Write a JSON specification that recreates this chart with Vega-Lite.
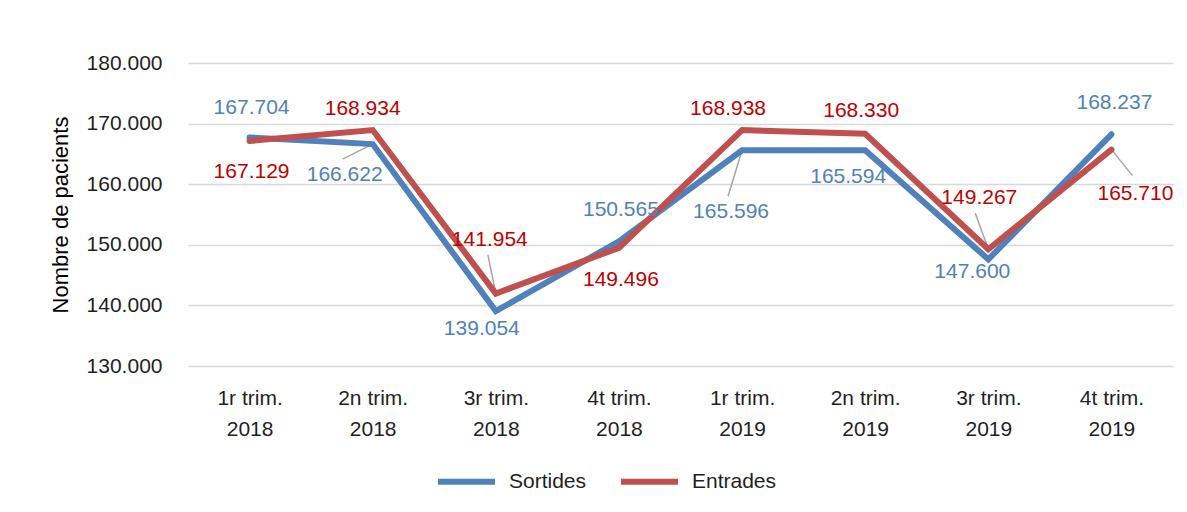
{
  "$schema": "https://vega.github.io/schema/vega-lite/v6.json",
  "width": 985,
  "height": 303,
  "autosize": {"type": "none"},
  "padding": {"left": 188, "top": 63, "right": 14, "bottom": 146},
  "background": "white",
  "config": {
    "locale": {"number": {"decimal": ",", "thousands": ".", "grouping": [3], "currency": ["", " €"]}},
    "font": "Liberation Sans",
    "view": {"stroke": null},
    "axis": {"labelFont": "Liberation Sans", "titleFont": "Liberation Sans"},
    "text": {"font": "Liberation Sans", "fontSize": 21}
  },
  "data": {
    "values": [
      {"trim": "1r trim. 2018", "serie": "Sortides", "valor": 167704},
      {"trim": "2n trim. 2018", "serie": "Sortides", "valor": 166622},
      {"trim": "3r trim. 2018", "serie": "Sortides", "valor": 139054},
      {"trim": "4t trim. 2018", "serie": "Sortides", "valor": 150565},
      {"trim": "1r trim. 2019", "serie": "Sortides", "valor": 165596},
      {"trim": "2n trim. 2019", "serie": "Sortides", "valor": 165594},
      {"trim": "3r trim. 2019", "serie": "Sortides", "valor": 147600},
      {"trim": "4t trim. 2019", "serie": "Sortides", "valor": 168237},
      {"trim": "1r trim. 2018", "serie": "Entrades", "valor": 167129},
      {"trim": "2n trim. 2018", "serie": "Entrades", "valor": 168934},
      {"trim": "3r trim. 2018", "serie": "Entrades", "valor": 141954},
      {"trim": "4t trim. 2018", "serie": "Entrades", "valor": 149496},
      {"trim": "1r trim. 2019", "serie": "Entrades", "valor": 168938},
      {"trim": "2n trim. 2019", "serie": "Entrades", "valor": 168330},
      {"trim": "3r trim. 2019", "serie": "Entrades", "valor": 149267},
      {"trim": "4t trim. 2019", "serie": "Entrades", "valor": 165710}
    ]
  },
  "encoding": {
    "x": {
      "field": "trim", "type": "nominal",
      "scale": {"type": "point", "padding": 0.5, "domain": ["1r trim. 2018", "2n trim. 2018", "3r trim. 2018", "4t trim. 2018", "1r trim. 2019", "2n trim. 2019", "3r trim. 2019", "4t trim. 2019"]},
      "axis": {
        "title": null, "labelAngle": 0, "domain": false, "ticks": false,
        "labelFontSize": 21, "labelColor": "#1f1f1f", "labelPadding": 32,
        "labelLineHeight": 31, "labelBaseline": "middle",
        "labelExpr": "[slice(datum.label,0,8), slice(datum.label,9)]"
      }
    },
    "y": {
      "field": "valor", "type": "quantitative",
      "scale": {"domain": [130000, 180000], "nice": false, "zero": false},
      "axis": {
        "title": "Nombre de pacients", "titleFontSize": 22, "titleFontWeight": "normal",
        "titleColor": "#000000", "titlePadding": 14,
        "values": [130000, 140000, 150000, 160000, 170000, 180000],
        "format": ",d", "labelFontSize": 21, "labelColor": "#1f1f1f", "labelPadding": 26,
        "domain": false, "ticks": false, "grid": true, "gridColor": "#D9D9D9", "gridWidth": 1.5
      }
    }
  },
  "layer": [
    {
      "transform": [{"filter": "datum.serie=='Sortides' && (datum.trim=='2n trim. 2018')"}],
      "mark": {"type": "rule", "color": "#A6A6A6", "strokeWidth": 1.5, "x2Offset": -30, "y2Offset": 15},
      "encoding": {"x2": {"field": "trim"}, "y2": {"field": "valor"}}
    },
    {
      "transform": [{"filter": "datum.serie=='Sortides' && (datum.trim=='1r trim. 2019')"}],
      "mark": {"type": "rule", "color": "#A6A6A6", "strokeWidth": 1.5, "x2Offset": -14, "y2Offset": 46},
      "encoding": {"x2": {"field": "trim"}, "y2": {"field": "valor"}}
    },
    {
      "transform": [{"filter": "datum.serie=='Entrades' && (datum.trim=='3r trim. 2018')"}],
      "mark": {"type": "rule", "color": "#A6A6A6", "strokeWidth": 1.5, "x2Offset": -8, "y2Offset": -39},
      "encoding": {"x2": {"field": "trim"}, "y2": {"field": "valor"}}
    },
    {
      "transform": [{"filter": "datum.serie=='Entrades' && (datum.trim=='3r trim. 2019')"}],
      "mark": {"type": "rule", "color": "#A6A6A6", "strokeWidth": 1.5, "x2Offset": -13, "y2Offset": -36},
      "encoding": {"x2": {"field": "trim"}, "y2": {"field": "valor"}}
    },
    {
      "transform": [{"filter": "datum.serie=='Entrades' && (datum.trim=='4t trim. 2019')"}],
      "mark": {"type": "rule", "color": "#A6A6A6", "strokeWidth": 1.5, "x2Offset": 21, "y2Offset": 26},
      "encoding": {"x2": {"field": "trim"}, "y2": {"field": "valor"}}
    },
    {
      "mark": {"type": "line", "strokeWidth": 6, "strokeCap": "round"},
      "encoding": {
        "color": {
          "field": "serie", "type": "nominal",
          "scale": {"domain": ["Sortides", "Entrades"], "range": ["#4F81BD", "#C0504D"]},
          "legend": {
            "title": null, "orient": "none", "direction": "horizontal",
            "legendX": 247, "legendY": 387,
            "symbolType": "stroke", "symbolSize": 3249, "symbolStrokeWidth": 6,
            "labelFontSize": 21, "labelColor": "#1f1f1f", "labelOffset": 11,
            "columnPadding": 22, "labelFont": "Liberation Sans"
          }
        }
      }
    },
    {"transform": [{"filter": "datum.serie=='Sortides' && datum.trim=='1r trim. 2018'"}], "mark": {"type": "text", "color": "#4F81BD", "dx": 2, "dy": -30, "baseline": "middle"}, "encoding": {"text": {"field": "valor", "format": ",d"}}},
    {"transform": [{"filter": "datum.serie=='Sortides' && datum.trim=='2n trim. 2018'"}], "mark": {"type": "text", "color": "#4F81BD", "dx": -28, "dy": 31, "baseline": "middle"}, "encoding": {"text": {"field": "valor", "format": ",d"}}},
    {"transform": [{"filter": "datum.serie=='Sortides' && datum.trim=='3r trim. 2018'"}], "mark": {"type": "text", "color": "#4F81BD", "dx": -14, "dy": 18, "baseline": "middle"}, "encoding": {"text": {"field": "valor", "format": ",d"}}},
    {"transform": [{"filter": "datum.serie=='Sortides' && datum.trim=='4t trim. 2018'"}], "mark": {"type": "text", "color": "#4F81BD", "dx": 2, "dy": -31, "baseline": "middle"}, "encoding": {"text": {"field": "valor", "format": ",d"}}},
    {"transform": [{"filter": "datum.serie=='Sortides' && datum.trim=='1r trim. 2019'"}], "mark": {"type": "text", "color": "#4F81BD", "dx": -11, "dy": 62, "baseline": "middle"}, "encoding": {"text": {"field": "valor", "format": ",d"}}},
    {"transform": [{"filter": "datum.serie=='Sortides' && datum.trim=='2n trim. 2019'"}], "mark": {"type": "text", "color": "#4F81BD", "dx": -17, "dy": 27, "baseline": "middle"}, "encoding": {"text": {"field": "valor", "format": ",d"}}},
    {"transform": [{"filter": "datum.serie=='Sortides' && datum.trim=='3r trim. 2019'"}], "mark": {"type": "text", "color": "#4F81BD", "dx": -16, "dy": 13, "baseline": "middle"}, "encoding": {"text": {"field": "valor", "format": ",d"}}},
    {"transform": [{"filter": "datum.serie=='Sortides' && datum.trim=='4t trim. 2019'"}], "mark": {"type": "text", "color": "#4F81BD", "dx": 3, "dy": -31, "baseline": "middle"}, "encoding": {"text": {"field": "valor", "format": ",d"}}},
    {"transform": [{"filter": "datum.serie=='Entrades' && datum.trim=='1r trim. 2018'"}], "mark": {"type": "text", "color": "#C00000", "dx": 2, "dy": 31, "baseline": "middle"}, "encoding": {"text": {"field": "valor", "format": ",d"}}},
    {"transform": [{"filter": "datum.serie=='Entrades' && datum.trim=='2n trim. 2018'"}], "mark": {"type": "text", "color": "#C00000", "dx": -10, "dy": -21, "baseline": "middle"}, "encoding": {"text": {"field": "valor", "format": ",d"}}},
    {"transform": [{"filter": "datum.serie=='Entrades' && datum.trim=='3r trim. 2018'"}], "mark": {"type": "text", "color": "#C00000", "dx": -6, "dy": -54, "baseline": "middle"}, "encoding": {"text": {"field": "valor", "format": ",d"}}},
    {"transform": [{"filter": "datum.serie=='Entrades' && datum.trim=='4t trim. 2018'"}], "mark": {"type": "text", "color": "#C00000", "dx": 2, "dy": 32, "baseline": "middle"}, "encoding": {"text": {"field": "valor", "format": ",d"}}},
    {"transform": [{"filter": "datum.serie=='Entrades' && datum.trim=='1r trim. 2019'"}], "mark": {"type": "text", "color": "#C00000", "dx": -14, "dy": -21, "baseline": "middle"}, "encoding": {"text": {"field": "valor", "format": ",d"}}},
    {"transform": [{"filter": "datum.serie=='Entrades' && datum.trim=='2n trim. 2019'"}], "mark": {"type": "text", "color": "#C00000", "dx": -4, "dy": -23, "baseline": "middle"}, "encoding": {"text": {"field": "valor", "format": ",d"}}},
    {"transform": [{"filter": "datum.serie=='Entrades' && datum.trim=='3r trim. 2019'"}], "mark": {"type": "text", "color": "#C00000", "dx": -9, "dy": -51, "baseline": "middle"}, "encoding": {"text": {"field": "valor", "format": ",d"}}},
    {"transform": [{"filter": "datum.serie=='Entrades' && datum.trim=='4t trim. 2019'"}], "mark": {"type": "text", "color": "#C00000", "dx": 24, "dy": 44, "baseline": "middle"}, "encoding": {"text": {"field": "valor", "format": ",d"}}}
  ]
}
